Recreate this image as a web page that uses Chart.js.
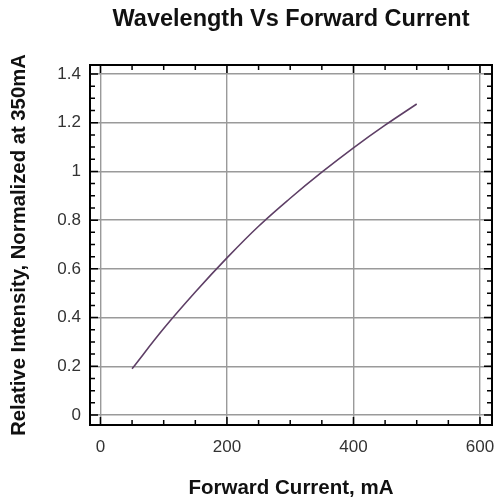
<!DOCTYPE html>
<html>
<head>
<meta charset="utf-8">
<script src="https://cdn.jsdelivr.net/npm/chart.js@4"></script>
<style>
  html, body { margin: 0; padding: 0; background: #ffffff; }
  #wrap { width: 494px; height: 502px; }
</style>
</head>
<body>
<div id="wrap"><canvas id="intensityChart" width="494" height="502"></canvas></div>
<script>

// ------------------------------
// Data
// ------------------------------

const currentMA = [50, 100, 150, 200, 250, 300, 350, 400, 450, 500];

const relIntensity = [0.19, 0.355, 0.505, 0.645, 0.775, 0.89, 0.997, 1.097, 1.19, 1.277];

const xTickValues = [0, 200, 400, 600];

const yTickValues = [0, 0.2, 0.4, 0.6, 0.8, 1, 1.2, 1.4];


// ------------------------------
// Frame + small inward ticks
// ------------------------------

const framePlugin = {

    id: "frame",

    afterDatasetsDraw(chart) {

        const { ctx, chartArea: a, scales } = chart;

        ctx.save();

        ctx.strokeStyle = "#000000";
        ctx.lineWidth = 1.5;

        ctx.beginPath();

        // minor x ticks every 50 on top and bottom
        for (let v = 50; v < 600; v += 50) {
            if (v % 200 === 0) continue;
            const px = scales.x.getPixelForValue(v);
            ctx.moveTo(px, a.bottom);
            ctx.lineTo(px, a.bottom - 5);
            ctx.moveTo(px, a.top);
            ctx.lineTo(px, a.top + 5);
        }

        // minor y ticks every 0.05 on left and right
        for (let i = 1; i < 28; i++) {
            if (i % 4 === 0) continue;
            const py = scales.y.getPixelForValue(i * 0.05);
            ctx.moveTo(a.left, py);
            ctx.lineTo(a.left + 5, py);
            ctx.moveTo(a.right, py);
            ctx.lineTo(a.right - 5, py);
        }

        // major ticks
        xTickValues.forEach(v => {
            const px = scales.x.getPixelForValue(v);
            ctx.moveTo(px, a.bottom);
            ctx.lineTo(px, a.bottom - 8);
            ctx.moveTo(px, a.top);
            ctx.lineTo(px, a.top + 8);
        });

        yTickValues.forEach(v => {
            const py = scales.y.getPixelForValue(v);
            ctx.moveTo(a.left, py);
            ctx.lineTo(a.left + 8, py);
            ctx.moveTo(a.right, py);
            ctx.lineTo(a.right - 8, py);
        });

        ctx.stroke();

        ctx.lineWidth = 2;
        ctx.strokeRect(a.left, a.top, a.right - a.left, a.bottom - a.top);

        ctx.restore();

    }

};


// ------------------------------
// Relative Intensity vs Current
// ------------------------------

const intensityChart = new Chart(document.getElementById("intensityChart"), {

    type: "line",

    data: {

        labels: currentMA,

        datasets: [{

            data: currentMA.map((x, i) => ({ x: x, y: relIntensity[i] })),

            borderColor: "#5e3f66",

            borderWidth: 1.6,

            pointRadius: 0,

            tension: 0.4,

            fill: false

        }]

    },

    options: {

        responsive: false,

        animation: false,

        layout: {

            padding: { left: 0, right: 2, top: 0, bottom: 0 }

        },

        plugins: {

            legend: { display: false },

            tooltip: { enabled: false },

            title: {

                display: true,

                fullSize: false,

                text: "Wavelength Vs Forward Current",

                color: "#111111",

                font: { family: "Arial, 'Liberation Sans', sans-serif", size: 23.5, weight: "bold", lineHeight: 1.2 },

                padding: { top: 5, bottom: 31.8 }

            }

        },

        scales: {

            x: {

                type: "linear",

                min: -16.5,

                max: 619,

                afterBuildTicks: scale => {
                    scale.ticks = xTickValues.map(v => ({ value: v }));
                },

                afterFit: scale => {
                    scale.height = 77;
                    scale.paddingLeft = 0;
                    scale.paddingRight = 0;
                },

                border: { display: false },

                grid: {

                    color: "#9a9a9a",

                    lineWidth: 1.4,

                    drawTicks: false

                },

                ticks: {

                    padding: 12,

                    maxRotation: 0,

                    color: "#333333",

                    font: { family: "Arial, 'Liberation Sans', sans-serif", size: 17 }

                },

                title: {

                    display: true,

                    text: "Forward Current, mA",

                    color: "#111111",

                    font: { family: "Arial, 'Liberation Sans', sans-serif", size: 20.5, weight: "bold", lineHeight: 1.2 },

                    padding: { top: 0, bottom: 1.5 }

                }

            },

            y: {

                min: -0.041,

                max: 1.437,

                afterBuildTicks: scale => {
                    scale.ticks = yTickValues.map(v => ({ value: v }));
                },

                afterFit: scale => {
                    scale.width = 90;
                },

                border: { display: false },

                grid: {

                    color: "#9a9a9a",

                    lineWidth: 1.4,

                    drawTicks: false

                },

                ticks: {

                    padding: 9,

                    color: "#333333",

                    font: { family: "Arial, 'Liberation Sans', sans-serif", size: 17 },

                    callback: v => String(Math.round(v * 10) / 10)

                },

                title: {

                    display: true,

                    text: "Relative Intensity, Normalized at 350mA",

                    color: "#111111",

                    font: { family: "Arial, 'Liberation Sans', sans-serif", size: 20.3, weight: "bold", lineHeight: 1.2 },

                    padding: { top: 7, bottom: 0 }

                }

            }

        }

    },

    plugins: [framePlugin]

});

</script>
</body>
</html>
